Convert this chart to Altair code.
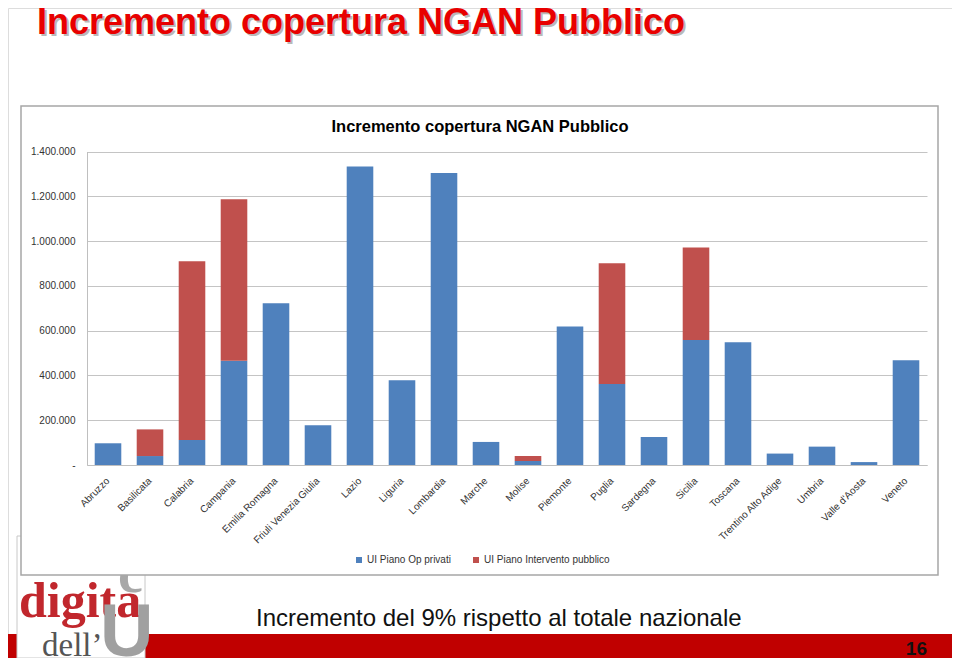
import altair as alt
import pandas as pd

# ---------------- data ----------------
regions = ["Abruzzo", "Basilicata", "Calabria", "Campania", "Emilia Romagna",
           "Friuli Venezia Giulia", "Lazio", "Liguria", "Lombardia", "Marche",
           "Molise", "Piemonte", "Puglia", "Sardegna", "Sicilia", "Toscana",
           "Trentino Alto Adige", "Umbria", "Valle d'Aosta", "Veneto"]
privati = [97000, 40000, 112000, 465000, 722000, 177000, 1333000, 378000,
           1304000, 103000, 18000, 619000, 362000, 125000, 558000, 548000,
           51000, 82000, 13000, 468000]
pubblico = [0, 119000, 798000, 722000, 0, 0, 0, 0, 0, 0, 22000, 0, 539000,
            0, 413000, 0, 0, 0, 0, 0]
series_names = ["UI Piano Op privati", "UI Piano Intervento pubblico"]
series_colors = ["#4F81BD", "#C0504D"]
y_ticks = [0, 200000, 400000, 600000, 800000, 1000000, 1200000, 1400000]

slide_title = "Incremento copertura NGAN Pubblico"
chart_title = "Incremento copertura NGAN Pubblico"
subtitle = "Incremento del 9% rispetto al totale nazionale"
page_number = "16"

rows = []
for i, r in enumerate(regions):
    rows.append({"regione": r, "serie": series_names[0], "valore": privati[i], "ord": 0})
    rows.append({"regione": r, "serie": series_names[1], "valore": pubblico[i], "ord": 1})
df = pd.DataFrame(rows)

W, H = 944, 650
one = pd.DataFrame({"k": [0]})


def box(x, x2, y, y2, **kw):
    return alt.Chart(one).mark_rect(**kw).encode(
        x=alt.value(x), x2=alt.value(x2), y=alt.value(y), y2=alt.value(y2))


def label(text, x, y, **kw):
    return alt.Chart(one).mark_text(text=text, **kw).encode(
        x=alt.value(x), y=alt.value(y))


AXF = "Liberation Sans"

# decorations
band = box(0, W, 626, H, fill="#C00000")
logo_box = box(9, 137, 528, H, fill="white", stroke="#c8c8c8", strokeWidth=1)
logo_c = label("c", 110, 584, font="Liberation Serif", fontWeight="bold",
               fontSize=56, color="#a8a8a8", align="left", baseline="alphabetic")
logo_digita = label("digita", 11, 609, font="Liberation Serif", fontWeight="bold",
                    fontSize=50, color="#C1272D", align="left", baseline="alphabetic")
logo_dell = label("dell\u2019", 34, 648, font="Liberation Serif", fontSize=33,
                  color="#555555", align="left", baseline="alphabetic")
logo_u = label("U", 92, 648, font="Liberation Sans Narrow, Liberation Sans",
               fontWeight="bold", fontSize=74, color="#a0a0a0", align="left",
               baseline="alphabetic")
logo_cover = box(13, 140, 527, 567, fill="white")  # part of the logo hidden by the chart
frame = box(13, 930, 98, 567, fill="transparent", stroke="#a6a6a6", strokeWidth=1.5)

bars = alt.Chart(df).mark_bar().encode(
    x=alt.X("regione:N", sort=regions, title=None,
            scale=alt.Scale(range=[79, 919], paddingInner=0.367, paddingOuter=0.1835),
            axis=alt.Axis(labelAngle=-45, labelAlign="right", labelBaseline="middle",
                          offset=-193, ticks=False, domainColor="#bfbfbf",
                          labelFont=AXF, labelFontSize=10, labelColor="#333333",
                          labelPadding=14, grid=False)),
    y=alt.Y("valore:Q", stack="zero", title=None,
            scale=alt.Scale(domain=[0, 1400000], range=[457, 143.5], nice=False),
            axis=alt.Axis(values=y_ticks, format=",.0f",
                          labelExpr="datum.value === 0 ? '-' : datum.label",
                          offset=-79, ticks=False, domainColor="#bfbfbf",
                          gridColor="#c4c4c4", gridWidth=1, labelPadding=12,
                          labelFont=AXF, labelFontSize=10, labelColor="#333333")),
    color=alt.Color("serie:N",
                    scale=alt.Scale(domain=series_names, range=series_colors),
                    legend=alt.Legend(orient="none", legendX=346, legendY=547,
                                      direction="horizontal", title=None,
                                      symbolType="square", symbolSize=36,
                                      symbolStrokeWidth=0, labelFont=AXF,
                                      labelFontSize=10, labelColor="#333333",
                                      columnPadding=20, labelOffset=3)),
    order=alt.Order("ord:Q"),
)

inner_title = label(chart_title, 472, 119, font=AXF, fontWeight="bold",
                    fontSize=16.5, color="#000000", align="center", baseline="middle")
title_shadow = label(slide_title, 31, 28, font=AXF, fontWeight="bold", fontSize=36,
                     color="#808080", opacity=0.55, align="left", baseline="alphabetic")
title_txt = label(slide_title, 29, 26, font=AXF, fontWeight="bold", fontSize=36,
                  color="#E80000", align="left", baseline="alphabetic")
sub_txt = label(subtitle, 248, 618, font=AXF, fontSize=24, color="#111111",
                align="left", baseline="alphabetic")
page_txt = label(page_number, 919, 647, font="Liberation Sans Narrow, Liberation Sans",
                 fontWeight="bold", fontSize=19, color="#111111", align="right",
                 baseline="alphabetic")

chart = alt.layer(
    band, logo_box, logo_c, logo_digita, logo_dell, logo_u, logo_cover, frame,
    bars, inner_title, title_shadow, title_txt, sub_txt, page_txt
).properties(
    width=W, height=H, autosize=alt.AutoSizeParams(type="none"), padding=0,
    background="white"
).configure_view(strokeWidth=0).configure(
    locale={"number": {"decimal": ",", "thousands": ".", "grouping": [3],
                       "currency": ["\u20ac", ""]}}
)

chart.save("out.html", embed_options={"renderer": "svg", "actions": False})
